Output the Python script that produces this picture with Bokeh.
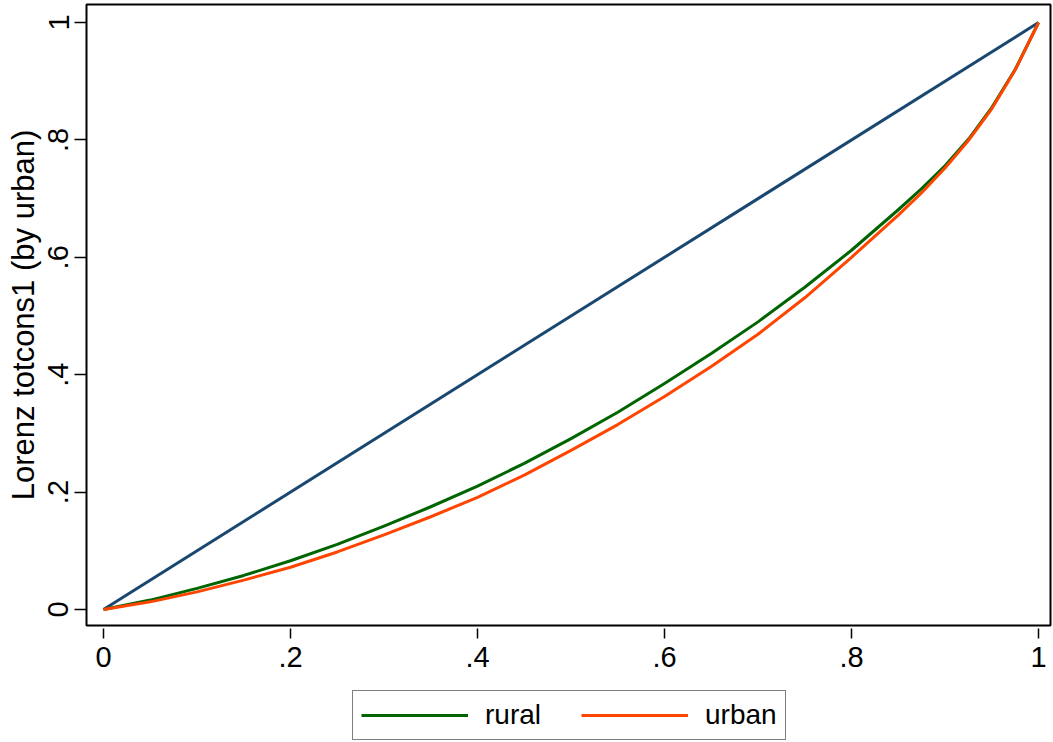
from bokeh.plotting import figure
from bokeh.layouts import column
from bokeh.models import Legend, LegendItem, FixedTicker, Range1d
from bokeh.embed import file_html
from bokeh.resources import INLINE

# Cumulative population share and Lorenz ordinates of total consumption
pop_share = [0.0, 0.05, 0.1, 0.15, 0.2, 0.25, 0.3, 0.35, 0.4, 0.45, 0.5,
             0.55, 0.6, 0.65, 0.7, 0.75, 0.8, 0.85, 0.875, 0.9, 0.925, 0.95, 0.975, 1.0]
lorenz_rural = [0.0, 0.016, 0.036, 0.058, 0.083, 0.111, 0.142, 0.175, 0.210, 0.249, 0.291,
                0.336, 0.385, 0.436, 0.490, 0.549, 0.612, 0.681, 0.717, 0.756, 0.801, 0.855,
                0.920, 1.0]
lorenz_urban = [0.0, 0.013, 0.030, 0.050, 0.072, 0.098, 0.127, 0.158, 0.191, 0.229, 0.271,
                0.315, 0.363, 0.414, 0.469, 0.531, 0.600, 0.672, 0.710, 0.752, 0.799, 0.853,
                0.919, 1.0]
equality_x = [0.0, 1.0]
equality_y = [0.0, 1.0]

series_names = ["rural", "urban"]
series_colors = ["#006400", "#ff4500"]
equality_color = "#1a476f"

tick_values = [0, 0.2, 0.4, 0.6, 0.8, 1.0]
tick_labels = ["0", ".2", ".4", ".6", ".8", "1"]

FONT = "Liberation Sans"

# ---- main Lorenz plot ----
p = figure(width=1053, height=690, output_backend="svg", toolbar_location=None,
           x_range=(-0.0182, 1.0128), y_range=(-0.0273, 1.0307),
           min_border_left=86, min_border_right=3, min_border_top=4, min_border_bottom=65)
p.background_fill_color = "white"
p.border_fill_color = "white"
p.outline_line_color = "black"
p.outline_line_width = 2
p.xgrid.visible = False
p.ygrid.visible = False

p.line(equality_x, equality_y, line_color=equality_color, line_width=3)
p.line(pop_share, lorenz_rural, line_color=series_colors[0], line_width=3, line_join="round")
p.line(pop_share, lorenz_urban, line_color=series_colors[1], line_width=3, line_join="round")

for ax in (p.xaxis[0], p.yaxis[0]):
    ax.ticker = FixedTicker(ticks=tick_values)
    ax.major_label_overrides = {v: l for v, l in zip(tick_values, tick_labels)}
    ax.minor_tick_line_color = None
    ax.axis_line_color = None
    ax.major_tick_line_color = "black"
    ax.major_tick_line_width = 1.5
    ax.major_label_text_font = FONT
    ax.major_label_text_font_size = "29px"
    ax.major_label_text_color = "black"

p.xaxis.major_tick_in = -3
p.xaxis.major_tick_out = 13
p.xaxis.major_label_standoff = 8

p.yaxis.major_tick_in = 0
p.yaxis.major_tick_out = 12
p.yaxis.major_label_orientation = "vertical"
p.yaxis.major_label_standoff = 6
p.yaxis.axis_label = "Lorenz totcons1 (by urban)"
p.yaxis.axis_label_text_font = FONT
p.yaxis.axis_label_text_font_size = "31px"
p.yaxis.axis_label_text_font_style = "normal"
p.yaxis.axis_label_text_color = "black"
p.yaxis.axis_label_standoff = 5

# ---- legend strip under the plot ----
leg = figure(width=1053, height=52, output_backend="svg", toolbar_location=None,
             x_axis_type=None, y_axis_type=None,
             x_range=Range1d(10, 11), y_range=Range1d(10, 11),
             min_border_left=0, min_border_right=0, min_border_top=0, min_border_bottom=0)
leg.outline_line_color = None
leg.background_fill_color = "white"
leg.border_fill_color = "white"
lr = leg.line(pop_share, lorenz_rural, line_color=series_colors[0], line_width=3)
lu = leg.line(pop_share, lorenz_urban, line_color=series_colors[1], line_width=3)

legend = Legend(items=[LegendItem(label=series_names[0], renderers=[lr]),
                       LegendItem(label=series_names[1], renderers=[lu])],
                orientation="horizontal", location=(266, 2),
                glyph_width=107, glyph_height=20, label_standoff=17, spacing=40,
                padding=8, margin=0,
                label_text_font=FONT, label_text_font_size="28px",
                label_text_color="black",
                border_line_color="black", border_line_width=1,
                background_fill_color="white", background_fill_alpha=1.0)
leg.add_layout(legend, "center")

layout = column(p, leg, spacing=0)
open("out.html", "w").write(file_html(layout, INLINE))
